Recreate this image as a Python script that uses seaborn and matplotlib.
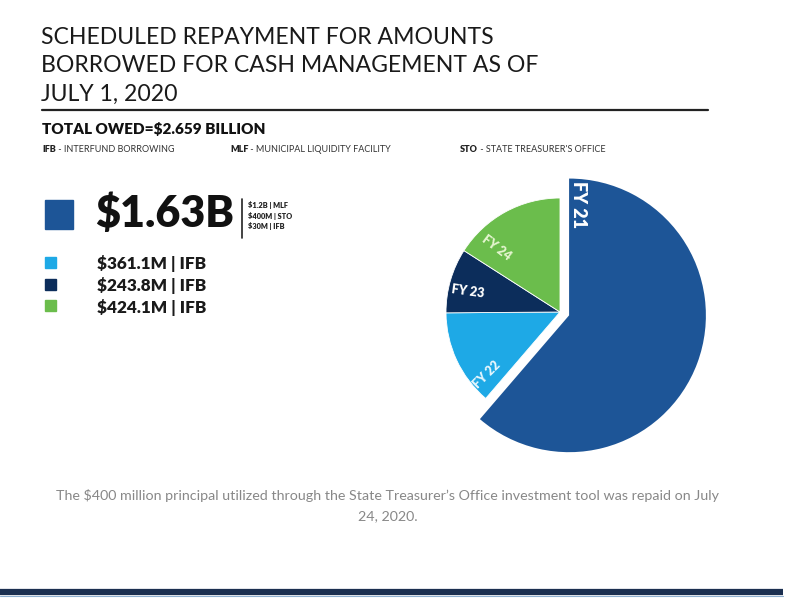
import matplotlib
matplotlib.use("Agg")
import matplotlib.pyplot as plt
import seaborn as sns
from matplotlib.patches import Rectangle

# data
fiscal_years = ["FY 21", "FY 22", "FY 23", "FY 24"]
amounts_m = [1630.0, 361.1, 243.8, 424.1]
legend_labels = ["$1.63B", "$361.1M | IFB", "$243.8M | IFB", "$424.1M | IFB"]
fy21_breakdown = ["$1.2B | MLF", "$400M | STO", "$30M | IFB"]
abbreviations = [("IFB", "INTERFUND BORROWING"),
                 ("MLF", "MUNICIPAL LIQUIDITY FACILITY"),
                 ("STO", "STATE TREASURER'S OFFICE")]

colors = ["#1d5597", "#1ea9e6", "#0c2d5b", "#6bbd4c"]
label_colors = ["white", "#e6f6fd", "white", "#e4f5cf"]

sns.set_theme(style="white")
plt.rcParams["font.family"] = ["Lato", "DejaVu Sans"]

W, H = 800, 605
fig = plt.figure(figsize=(W / 100, H / 100), dpi=100)
fig.patch.set_facecolor("white")

# full-figure axes in pixel coords (y from top) for all the text
bg = fig.add_axes([0, 0, 1, 1])
bg.set_xlim(0, W)
bg.set_ylim(H, 0)
bg.axis("off")

# title
title_lines = ["SCHEDULED REPAYMENT FOR AMOUNTS",
               "BORROWED FOR CASH MANAGEMENT AS OF",
               "JULY 1, 2020"]
for i, line in enumerate(title_lines):
    bg.text(41, 38 + 28 * i, line, fontsize=16.6, color="#1a1a1a", va="center", ha="left")

bg.plot([42, 708], [110, 110], color="#222222", lw=1.6)

bg.text(42, 129, "TOTAL OWED=$2.659 BILLION", fontsize=11, fontweight="heavy",
        color="#111111", va="center")

abbr_x = [42, 230, 460]
for (abbr, full), x in zip(abbreviations, abbr_x):
    t = bg.text(x, 149, abbr, fontsize=6.5, fontweight="heavy", color="#222222", va="center")
    bg.annotate(" - " + full, xy=(1, 0.5), xycoords=t, va="center", ha="left",
                fontsize=6.5, color="#333333")

# legend
bg.add_patch(Rectangle((45, 200), 28, 29, color=colors[0]))
bg.text(95, 214, legend_labels[0], fontsize=31, fontweight="heavy", color="#111111", va="center")
bg.plot([242, 242], [199, 238], color="#222222", lw=1.2)
for i, s in enumerate(fy21_breakdown):
    bg.text(248, 205 + 10.5 * i, s, fontsize=5.3, fontweight="heavy", color="#222222", va="center")

for i in range(1, 4):
    yc = 263 + 21.5 * (i - 1)
    bg.add_patch(Rectangle((45, yc - 6), 11, 11, color=colors[i]))
    bg.text(97, yc + 1, legend_labels[i], fontsize=12.3, fontweight="heavy", color="#1a1a1a", va="center")

# pie
R = 114
cx, cy = 560, 312
half = 1.4 * R
ax = fig.add_axes([(cx - half) / W, 1 - (cy + half) / H, 2 * half / W, 2 * half / H])
wedges, _ = ax.pie(amounts_m, colors=colors, startangle=90, counterclock=False,
                   explode=[0.085, 0, 0, 0],
                   wedgeprops=dict(edgecolor="white", linewidth=0.6))
wedges[0].set_radius(1.2)
wedges[0].set_edgecolor("none")
ax.set_xlim(-1.4, 1.4)
ax.set_ylim(-1.4, 1.4)
ax.set_aspect("equal")
ax.axis("off")

label_pos = [(0.16, 0.94, -90, 13), (-0.64, -0.55, 45, 9), (-0.81, 0.18, -8, 9), (-0.56, 0.56, -37, 9)]
for (x, y, rot, size), name, c in zip(label_pos, fiscal_years, label_colors):
    ax.text(x, y, name, rotation=rot, ha="center", va="center", fontsize=size,
            fontweight="heavy", color=c)

# footnote
bg.text(388, 495, "The $400 million principal utilized through the State Treasurer\u2019s Office "
        "investment tool was repaid on July", fontsize=10.3, color="#888888", ha="center", va="center")
bg.text(388, 516, "24, 2020.", fontsize=10.3, color="#888888", ha="center", va="center")

bg.plot([0, 783], [592, 592], color="#1b2f50", lw=4.5, solid_capstyle="butt")
bg.plot([0, 783], [595.5, 595.5], color="#8fb0d0", lw=0.8)

fig.savefig("out.png", dpi=100, facecolor="white")
